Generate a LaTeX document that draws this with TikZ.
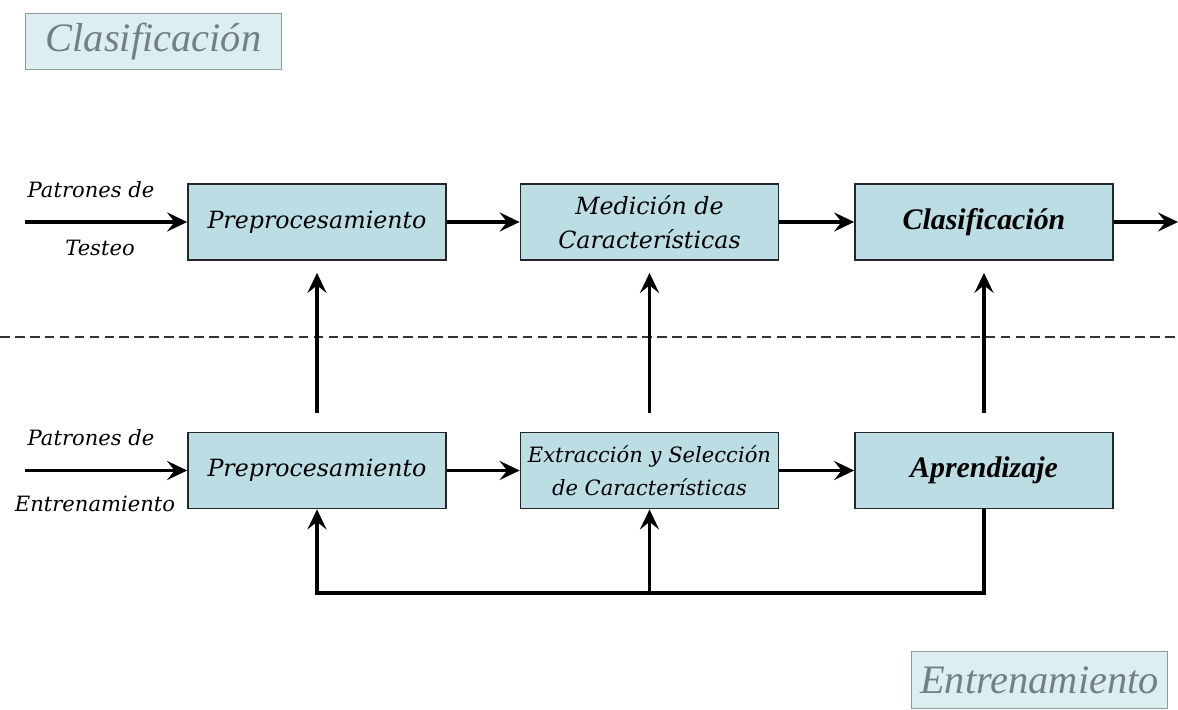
\documentclass[tikz,border=0pt]{standalone}
\usepackage{fontspec}
\setmainfont{DejaVu Serif}
\newfontfamily\boldfont{Liberation Serif}
\newfontfamily\titlefont{Liberation Serif}
\usetikzlibrary{arrows.meta}

\definecolor{boxfill}{HTML}{BCDDE3}
\definecolor{titlefill}{HTML}{DCEEF0}
\definecolor{titlegray}{HTML}{72807F}

\begin{document}
\begin{tikzpicture}[x={(0.02cm,0cm)},y={(0cm,-0.02cm)},
  blockbox/.style={draw=black!85, line width=1pt, fill=boxfill, minimum width=5.16cm, minimum height=1.52cm, inner sep=2pt, align=center, font=\fontsize{13.5}{19.5}\selectfont\itshape},
  boldbox/.style={blockbox, font=\boldfont\fontsize{17}{20}\selectfont\bfseries\itshape},
  titlebox/.style={draw=titlegray!80, line width=0.8pt, fill=titlefill, minimum width=5.12cm, minimum height=1.13cm, text=titlegray, font=\titlefont\fontsize{23}{26}\selectfont\itshape},
  lbl/.style={inner sep=0pt, font=\fontsize{12}{14}\selectfont\itshape},
  arr/.style={line width=2.1pt, -{Stealth[length=4mm, width=3.8mm, inset=1.5mm]}}]
\useasboundingbox (0,0) rectangle (1178,710);
% titulos
\node[titlebox] (tclas) at (153.5,41.5) {Clasificación};
\node[titlebox] (tentr) at (1039.5,680) {Entrenamiento};
% fila de testeo
\node[blockbox] (prep1) at (317,222) {Preprocesamiento};
\node[blockbox] (medi1) at (649.5,222) {Medición de\\Características};
\node[boldbox] (clas1) at (984,222) {Clasificación};
% fila de entrenamiento
\node[blockbox] (prep2) at (317,470.5) {Preprocesamiento};
\node[blockbox, font=\fontsize{12}{18.5}\selectfont\itshape] (extr2) at (649.5,470.5) {Extracción y Selección\\de Características};
\node[boldbox] (apre2) at (984,470.5) {Aprendizaje};
% entradas
\coordinate (in1) at (25,222);
\coordinate (in2) at (25,470.5);
\coordinate (out1) at (1178,222);
\node[lbl] (pt1) at (91,190) {Patrones de};
\node[lbl] (te1) at (100,248) {Testeo};
\node[lbl] (pt2) at (91,438) {Patrones de};
\node[lbl] (en2) at (95,504) {Entrenamiento};
\draw[arr] (in1) -- (prep1.west);
\draw[arr] (in2) -- (prep2.west);
\draw[arr] (prep1) -- (medi1);
\draw[arr] (medi1) -- (clas1);
\draw[arr] (clas1.east) -- (out1);
\draw[arr] (prep2) -- (extr2);
\draw[arr] (extr2) -- (apre2);
% separacion
\coordinate (dl) at (0,337);
\coordinate (dr) at (1178,337);
\draw[line width=0.8pt, black!80, dash pattern=on 5.5pt off 3pt] (dl) -- (dr);
% flechas hacia arriba
\draw[arr, shorten <=0.38cm, shorten >=0.24cm] (prep2.north) -- (prep1.south);
\draw[arr, shorten <=0.38cm, shorten >=0.24cm] (extr2.north) -- (medi1.south);
\draw[arr, shorten <=0.38cm, shorten >=0.24cm] (apre2.north) -- (clas1.south);
% realimentacion
\coordinate (fb) at (984,593);
\draw[arr] (apre2.south) |- (prep2.south |- fb) -- (prep2.south);
\draw[arr] (extr2.south |- fb) -- (extr2.south);
\end{tikzpicture}
\end{document}
